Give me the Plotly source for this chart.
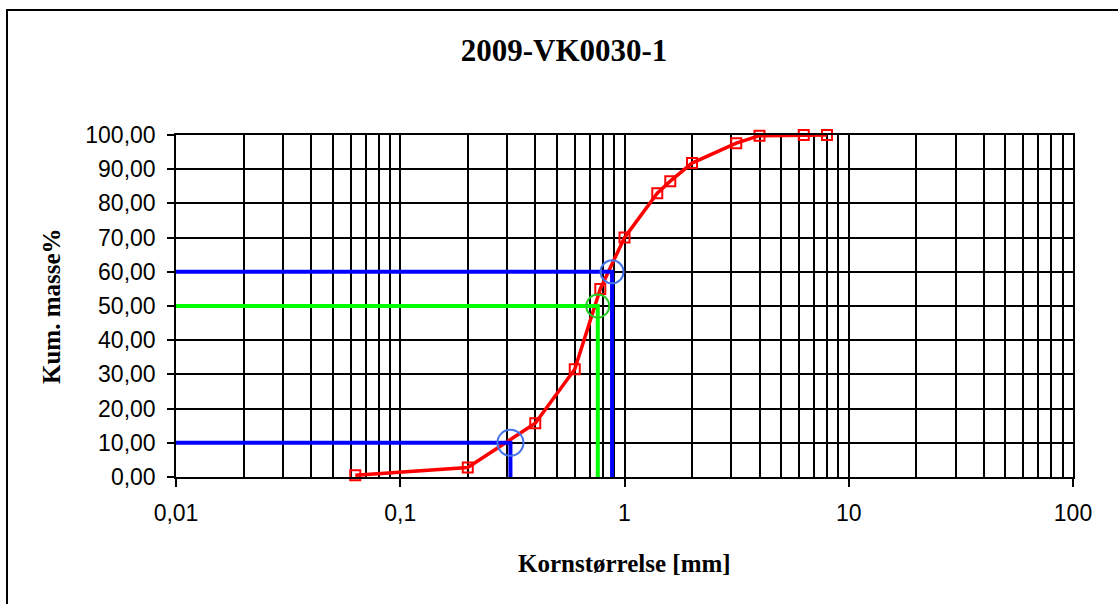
import plotly.graph_objects as go

# ---- data ----
sieve_mm = [0.063, 0.2, 0.4, 0.6, 0.78, 1.0, 1.4, 1.6, 2.0, 3.15, 4.0, 6.3, 8.0]
passing_pct = [0.5, 2.8, 15.7, 31.5, 55.0, 70.0, 83.0, 86.5, 91.8, 97.6, 99.8, 100.0, 100.0]

d_labels = ["d10", "d50", "d60"]
d_pct = [10, 50, 60]
d_mm = [0.31, 0.76, 0.88]

x_tickvals = [0.01, 0.1, 1, 10, 100]
x_ticktext = ["0,01", "0,1", "1", "10", "100"]
y_tickvals = [0, 10, 20, 30, 40, 50, 60, 70, 80, 90, 100]
y_ticktext = ["0,00", "10,00", "20,00", "30,00", "40,00", "50,00", "60,00", "70,00", "80,00", "90,00", "100,00"]

title_text = "2009-VK0030-1"
x_title = "Kornstørrelse [mm]"
y_title = "Kum. masse%"

# ---- layout geometry ----
W, H = 1118, 604
L, R, T, B = 176, 1073, 135, 477


def px2x(p):
    return (p - L) / (R - L)


def py2y(p):
    return (B - p) / (B - T)


minor_vals = [m * 10.0 ** e for e in range(-2, 2) for m in range(2, 10)]

fig = go.Figure()

# cumulative curve
fig.add_trace(go.Scatter(
    x=sieve_mm, y=passing_pct, mode="lines+markers",
    line=dict(color="#FF0000", width=3.5),
    marker=dict(symbol="square-open", size=10, color="#FF0000", line=dict(width=2)),
    showlegend=False, cliponaxis=False,
))

line_colors = ["#0000FF", "#00FF00", "#0000FF"]
circle_colors = ["#4472E8", "#22CC22", "#4472E8"]
circle_sizes = [26, 23, 23]
for name, p, d, lc, cc, cs in zip(d_labels, d_pct, d_mm, line_colors, circle_colors, circle_sizes):
    fig.add_trace(go.Scatter(
        x=[x_tickvals[0], d, d], y=[p, p, 0], mode="lines",
        line=dict(color=lc, width=4), showlegend=False, name=name,
    ))
    fig.add_trace(go.Scatter(
        x=[d], y=[p], mode="markers",
        marker=dict(symbol="circle-open", size=cs, color=cc, line=dict(width=2)),
        showlegend=False, name=name, cliponaxis=False,
    ))

tick_font = dict(family="Liberation Sans, Arial, sans-serif", size=23, color="black")
serif_bold = dict(family="Liberation Serif, Times New Roman, serif", size=25, color="black", weight="bold")

fig.update_xaxes(
    type="log", range=[-2, 2],
    tickvals=x_tickvals, ticktext=x_ticktext,
    ticks="outside", ticklen=8, tickwidth=1.5, tickcolor="black",
    ticklabelstandoff=7,
    showgrid=True, gridcolor="black", gridwidth=1.5,
    minor=dict(tickvals=minor_vals, showgrid=True, gridcolor="black", gridwidth=1.5, ticks=""),
    showline=True, linecolor="black", linewidth=1.5, mirror=True,
    tickfont=tick_font, zeroline=False,
)
fig.update_yaxes(
    range=[0, 100],
    tickvals=y_tickvals, ticktext=y_ticktext,
    ticks="outside", ticklen=7, tickwidth=1.5, tickcolor="black",
    ticklabelstandoff=7,
    showgrid=True, gridcolor="black", gridwidth=1.5,
    showline=True, linecolor="black", linewidth=1.5, mirror=True,
    tickfont=tick_font, zeroline=False,
)

fig.update_layout(
    width=W, height=H,
    margin=dict(l=L, r=W - R, t=T, b=H - B),
    paper_bgcolor="white", plot_bgcolor="white",
    hovermode=False,
    title=dict(
        text=title_text, xref="container", yref="container",
        x=564 / W, y=1 - 50 / H, xanchor="center", yanchor="middle",
        font=dict(family="Liberation Serif, Times New Roman, serif", size=31, color="black", weight="bold"),
    ),
    annotations=[
        dict(text=x_title, xref="paper", yref="paper", x=0.5, y=py2y(563),
             xanchor="center", yanchor="middle", showarrow=False, font=serif_bold),
        dict(text=y_title, xref="paper", yref="paper", x=px2x(51), y=0.5,
             xanchor="center", yanchor="middle", textangle=-90, showarrow=False, font=serif_bold),
    ],
    shapes=[
        dict(type="rect", xref="paper", yref="paper",
             x0=px2x(7), x1=px2x(1140), y0=py2y(10), y1=py2y(620),
             line=dict(color="black", width=2), fillcolor="rgba(0,0,0,0)", layer="above"),
    ],
)

fig.write_html(
    "out.html",
    config={"displayModeBar": False},
    post_script="document.body.style.margin='0';document.body.style.overflow='hidden';",
)
